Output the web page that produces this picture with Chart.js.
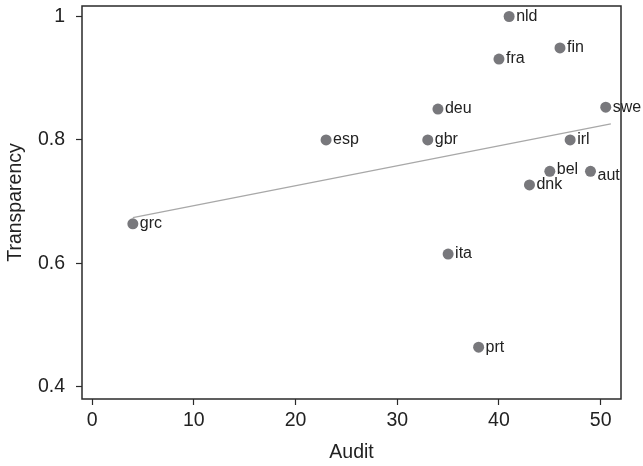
<!DOCTYPE html>
<html>
<head>
<meta charset="utf-8">
<script src="https://cdn.jsdelivr.net/npm/chart.js@4.4.1/dist/chart.umd.min.js"></script>
<style>
  html, body { margin: 0; padding: 0; background: #fff; }
  #wrap { width: 643px; height: 466px; }
</style>
</head>
<body>
<div id="wrap"><canvas id="scatterChart"></canvas></div>
<script>
const countries = ["grc", "esp", "gbr", "deu", "ita", "prt", "fra", "nld", "dnk", "bel", "fin", "irl", "aut", "swe"];
const audit = [4, 23, 33, 34, 35, 38, 40, 41, 43, 45, 46, 47, 49, 50.5];
const transparency = [0.664, 0.8, 0.8, 0.85, 0.615, 0.464, 0.931, 1.0, 0.727, 0.749, 0.949, 0.8, 0.749, 0.853];

// fitted line at both ends
const fitX = [4, 51];
const fitY = [0.674, 0.826];

const xTicks = [0, 10, 20, 30, 40, 50];
const yTicks = [0.4, 0.6, 0.8, 1];

const inkColor = "#222";
const dotColor = "#78787c";
const fontFamily = "'Liberation Sans', Arial, sans-serif";

// small nudges for a couple of labels so they sit like the original
const labelNudge = { bel: -2, aut: 4 };

const pointLabels = {
  id: "pointLabels",
  afterDatasetsDraw(chart) {
    const ctx = chart.ctx;
    const meta = chart.getDatasetMeta(1);
    ctx.save();
    ctx.font = "16px " + fontFamily;
    ctx.fillStyle = inkColor;
    ctx.textAlign = "left";
    ctx.textBaseline = "middle";
    meta.data.forEach((pt, i) => {
      const name = countries[i];
      ctx.fillText(name, pt.x + 7, pt.y + (labelNudge[name] || 0));
    });
    ctx.restore();
  }
};

const frame = {
  id: "frame",
  afterDraw(chart) {
    const a = chart.chartArea;
    const ctx = chart.ctx;
    ctx.save();
    ctx.strokeStyle = "#2a2a2a";
    ctx.lineWidth = 1.5;
    ctx.strokeRect(a.left, a.top, a.right - a.left, a.bottom - a.top);
    ctx.restore();
  }
};

const points = audit.map((x, i) => ({ x: x, y: transparency[i] }));
const fitLine = fitX.map((x, i) => ({ x: x, y: fitY[i] }));

const ctx = document.getElementById("scatterChart").getContext("2d");

new Chart(ctx, {
  type: "scatter",
  data: {
    datasets: [
      {
        type: "line",
        data: fitLine,
        borderColor: "#a8a8a8",
        borderWidth: 1.2,
        pointRadius: 0,
        fill: false,
        order: 2
      },
      {
        data: points,
        backgroundColor: dotColor,
        borderColor: dotColor,
        pointRadius: 5.5,
        pointBorderWidth: 0,
        order: 1
      }
    ]
  },
  options: {
    responsive: true,
    maintainAspectRatio: false,
    animation: false,
    layout: { padding: { top: 6, right: 22, bottom: 0, left: 0 } },
    plugins: {
      legend: { display: false },
      tooltip: { enabled: false }
    },
    scales: {
      x: {
        type: "linear",
        min: -1,
        max: 52,
        afterBuildTicks: s => { s.ticks = xTicks.map(v => ({ value: v })); },
        afterFit: s => { s.height = 67; s.paddingLeft = 0; s.paddingRight = 0; },
        grid: { drawOnChartArea: false, drawTicks: true, tickLength: 6, tickColor: "#2a2a2a", tickWidth: 1.2 },
        border: { display: false },
        ticks: {
          color: inkColor,
          padding: 4,
          maxRotation: 0,
          font: { family: fontFamily, size: 19.5 }
        },
        title: {
          display: true,
          text: "Audit",
          color: inkColor,
          padding: { top: 0, bottom: 2 },
          font: { family: fontFamily, size: 19.5 }
        }
      },
      y: {
        type: "linear",
        min: 0.38,
        max: 1.017,
        afterBuildTicks: s => { s.ticks = yTicks.map(v => ({ value: v })); },
        afterFit: s => { s.width = 82; s.paddingTop = 0; s.paddingBottom = 0; },
        grid: { drawOnChartArea: false, drawTicks: true, tickLength: 6, tickColor: "#2a2a2a", tickWidth: 1.2 },
        border: { display: false },
        ticks: {
          color: inkColor,
          padding: 11,
          callback: v => String(v),
          font: { family: fontFamily, size: 19.5 }
        },
        title: {
          display: true,
          text: "Transparency",
          color: inkColor,
          padding: { top: 4, bottom: 0 },
          font: { family: fontFamily, size: 19.5 }
        }
      }
    }
  },
  plugins: [pointLabels, frame]
});
</script>
</body>
</html>
